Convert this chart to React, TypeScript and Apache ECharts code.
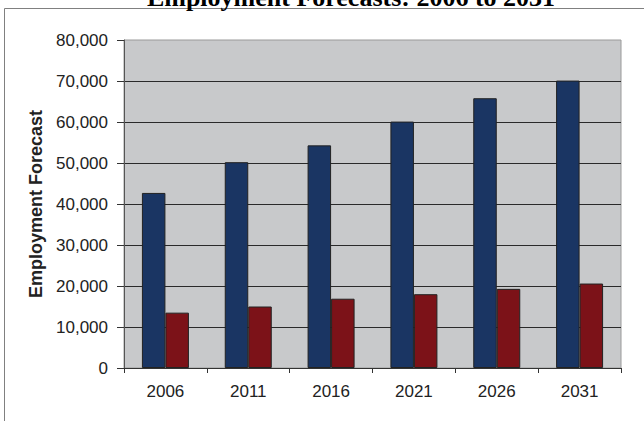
import React, { useEffect, useRef } from "react";
import * as echarts from "echarts";

const categories = ["2006", "2011", "2016", "2021", "2026", "2031"];
const seriesA = [42700, 50200, 54300, 60100, 65800, 70100];
const seriesB = [13500, 15000, 16900, 18000, 19300, 20600];
const titleText = "Employment Forecasts: 2006 to 2031";
const yTitle = "Employment Forecast";

export default function App() {
  const ref = useRef<HTMLDivElement>(null);
  useEffect(() => {
    if (!ref.current) return;
    const chart = echarts.init(ref.current, null, { renderer: "svg" });
    chart.setOption({
      animation: false,
      backgroundColor: "#ffffff",
      graphic: [
        {
          type: "rect",
          shape: { x: 4.5, y: 8.5, width: 800, height: 600 },
          style: { fill: "none", stroke: "#808080", lineWidth: 1 },
          silent: true,
        },
        {
          type: "text",
          x: 351,
          y: 10,
          style: {
            text: titleText,
            font: "bold 26px 'Liberation Serif', 'Times New Roman', serif",
            fill: "#000",
            align: "center",
            verticalAlign: "bottom",
          },
        },
      ],
      grid: {
        left: 124,
        right: 23,
        top: 40,
        bottom: 53,
        show: true,
        backgroundColor: "#c8c9cb",
        borderColor: "#9a9a9a",
        borderWidth: 1,
      },
      xAxis: {
        type: "category",
        data: categories,
        axisLine: { show: true, lineStyle: { color: "#333", width: 1 } },
        axisTick: { show: true, length: 5, lineStyle: { color: "#333" } },
        axisLabel: {
          margin: 15,
          color: "#222",
          fontSize: 17,
          fontFamily: "'Liberation Sans', Arial, sans-serif",
        },
      },
      yAxis: {
        type: "value",
        min: 0,
        max: 80000,
        interval: 10000,
        name: yTitle,
        nameLocation: "middle",
        nameGap: 77,
        nameRotate: 90,
        nameTextStyle: {
          fontSize: 18,
          fontWeight: "bold",
          color: "#222",
          fontFamily: "'Liberation Sans', Arial, sans-serif",
        },
        axisLine: { show: true, lineStyle: { color: "#555", width: 1 } },
        axisTick: { show: true, length: 7, lineStyle: { color: "#333" } },
        axisLabel: {
          margin: 16,
          color: "#222",
          fontSize: 17,
          fontFamily: "'Liberation Sans', Arial, sans-serif",
          formatter: (v: number) => v.toLocaleString("en-US"),
        },
        splitLine: {
          show: true,
          showMinLine: false,
          showMaxLine: false,
          lineStyle: { color: "#2a2a2a", width: 1 },
        },
      },
      series: [
        {
          type: "bar",
          data: seriesA,
          barWidth: 23.5,
          barGap: "0%",
          itemStyle: { color: "#1a3563", borderColor: "#222", borderWidth: 1 },
        },
        {
          type: "bar",
          data: seriesB,
          barWidth: 23.5,
          barGap: "0%",
          itemStyle: { color: "#7c1218", borderColor: "#222", borderWidth: 1 },
        },
      ],
    });
    return () => chart.dispose();
  }, []);
  return (
    <div
      ref={ref}
      style={{ position: "fixed", left: 0, top: 0, width: 644, height: 421 }}
    />
  );
}
